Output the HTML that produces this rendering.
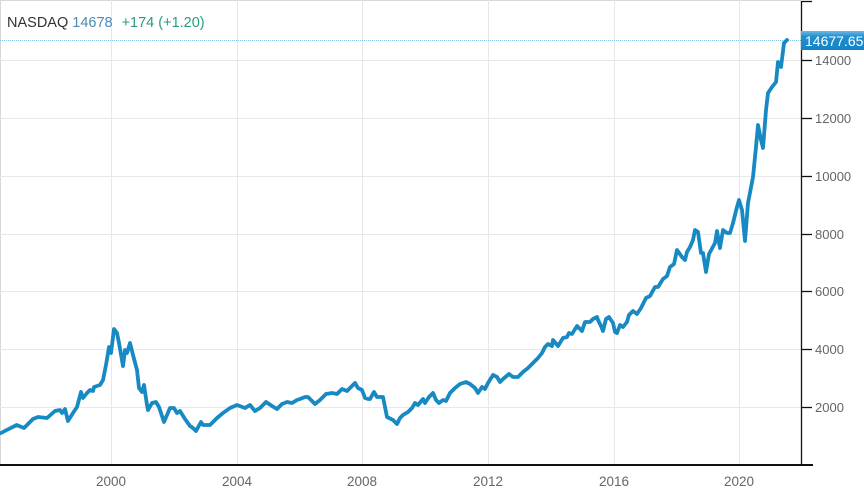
<!DOCTYPE html>
<html><head><meta charset="utf-8"><style>
html,body{margin:0;padding:0;background:#fff;}
body{width:864px;height:495px;overflow:hidden;position:relative;font-family:"Liberation Sans",Arial,sans-serif;}
svg{position:absolute;left:0;top:0;}
</style></head><body>
<svg width="864" height="495" viewBox="0 0 864 495" xmlns="http://www.w3.org/2000/svg">
<rect x="0" y="0" width="864" height="495" fill="#fff"/>
<!-- frame -->
<line x1="0" y1="0.5" x2="801" y2="0.5" stroke="#d8d8d8" stroke-width="1"/>
<line x1="0.5" y1="0" x2="0.5" y2="465" stroke="#d8d8d8" stroke-width="1"/>
<!-- vertical grid -->
<g stroke="#e8e8e8" stroke-width="1">
<line x1="111.5" y1="0" x2="111.5" y2="465"/>
<line x1="237.5" y1="0" x2="237.5" y2="465"/>
<line x1="362.5" y1="0" x2="362.5" y2="465"/>
<line x1="488.5" y1="0" x2="488.5" y2="465"/>
<line x1="614.5" y1="0" x2="614.5" y2="465"/>
<line x1="739.5" y1="0" x2="739.5" y2="465"/>
<!-- horizontal grid -->
<line x1="0" y1="407.5" x2="801" y2="407.5"/>
<line x1="0" y1="349.5" x2="801" y2="349.5"/>
<line x1="0" y1="291.5" x2="801" y2="291.5"/>
<line x1="0" y1="234.5" x2="801" y2="234.5"/>
<line x1="0" y1="176.5" x2="801" y2="176.5"/>
<line x1="0" y1="118.5" x2="801" y2="118.5"/>
<line x1="0" y1="60.5" x2="801" y2="60.5"/>
</g>
<!-- dotted last price line -->
<line x1="0" y1="40.5" x2="801" y2="40.5" stroke="#86bedc" stroke-width="1" stroke-dasharray="1,1"/>
<!-- axes -->
<line x1="0" y1="465" x2="813" y2="465" stroke="#111" stroke-width="2"/>
<line x1="801.5" y1="1" x2="801.5" y2="466" stroke="#111" stroke-width="1.3"/>
<line x1="801" y1="1.5" x2="812" y2="1.5" stroke="#111" stroke-width="1.3"/>
<g stroke="#111" stroke-width="1.3">
<line x1="801" y1="407.5" x2="812" y2="407.5"/>
<line x1="801" y1="349.5" x2="812" y2="349.5"/>
<line x1="801" y1="291.5" x2="812" y2="291.5"/>
<line x1="801" y1="234.5" x2="812" y2="234.5"/>
<line x1="801" y1="176.5" x2="812" y2="176.5"/>
<line x1="801" y1="118.5" x2="812" y2="118.5"/>
<line x1="801" y1="60.5" x2="812" y2="60.5"/>
</g>
<!-- y labels -->
<g font-family="Liberation Sans, Arial, sans-serif" font-size="13" fill="#666">
<text x="815" y="412">2000</text>
<text x="815" y="354">4000</text>
<text x="815" y="296">6000</text>
<text x="815" y="239">8000</text>
<text x="815" y="181">10000</text>
<text x="815" y="123">12000</text>
<text x="815" y="65">14000</text>
</g>
<!-- x labels -->
<g font-family="Liberation Sans, Arial, sans-serif" font-size="13.5" fill="#666" text-anchor="middle">
<text x="111" y="486">2000</text>
<text x="237" y="486">2004</text>
<text x="362" y="486">2008</text>
<text x="488" y="486">2012</text>
<text x="614" y="486">2016</text>
<text x="739" y="486">2020</text>
</g>
<!-- price tag -->
<defs><linearGradient id="g" x1="0" y1="0" x2="0" y2="1">
<stop offset="0" stop-color="#6fb8e2"/><stop offset="0.3" stop-color="#1e8fd0"/><stop offset="1" stop-color="#1484c6"/>
</linearGradient></defs>
<rect x="801" y="31" width="63" height="19" fill="url(#g)"/>
<text x="805" y="46" font-family="Liberation Sans, Arial, sans-serif" font-size="14" fill="#fff">14677.65</text>
<!-- series -->
<polyline fill="none" stroke="#1789c3" stroke-width="3.8" stroke-linejoin="round" stroke-linecap="round" points="1,433 6.7,430 16.7,425 24,428 33,419 38,417 47,418 55,411 60,410 62,413 65,409 68,421 73,413 77,407 81,392 83,398 87,393 90,390 93,391 94,387 100,385 103,380 106,365 109,347 111,353 114,329 117,333 119,343 123,366 125,350 127,353 130,343 133,355 137,370 139,388 142,392 144,385 147,405 148,410 152,403 156,402 159,407 164,422 170,408 174,408 177,413 180,411 185,419 190,426 193,428 196,431 201,422 203,425 210,425 217,418 223,413 230,408 237,405 245,408 250,405 255,411 260,408 266,402 272,406 277,409 282,404 287,402 292,403 297,400 300,399 305,397 308,397 315,404 320,400 326,394 332,393 337,394 342,389 347,391 351,387 355,383 358,388 362,390 365,398 368,399 370,399 374,392 377,397 380,397 383,397 387,417 391,419 393,420 397,424 400,418 403,415 408,412 412,408 415,403 418,405 423,399 425,403 429,397 433,393 436,400 439,403 443,400 446,401 450,393 455,388 460,384 466,382 470,384 475,388 478,393 482,387 485,389 488,383 493,375 497,377 500,382 503,379 509,374 513,377 518,377 523,372 528,368 532,364 535,361 538,358 542,353 545,347 548,344 552,346 553,340 558,346 563,338 567,337 569,333 572,334 577,326 582,331 585,322 590,322 593,319 597,317 598,320 601,326 603,331 606,319 609,317 613,323 615,332 617,333 620,325 623,327 627,322 629,315 633,311 637,314 641,308 646,298 650,296 655,287 658,287 663,279 667,276 670,267 674,264 677,250 682,257 685,260 687,252 690,247 693,240 695,230 698,232 701,253 703,253 706,272 709,254 715,243 717,231 720,248 723,230 727,233 730,233 733,223 737,207 739,200 742,210 745,241 748,203 753,177 756,147 758,125 761,140 763,148 766,110 768,93 772,87 776,82 778,62 781,67 784,43 787,40"/>
<!-- header -->
<text x="7" y="27" font-family="Liberation Sans, Arial, sans-serif" font-size="14.5"><tspan fill="#333">NASDAQ</tspan><tspan fill="#4a8ab8" dx="4">14678</tspan><tspan fill="#2a9a86" dx="9">+174 (+1.20)</tspan></text>
</svg>
</body></html>
